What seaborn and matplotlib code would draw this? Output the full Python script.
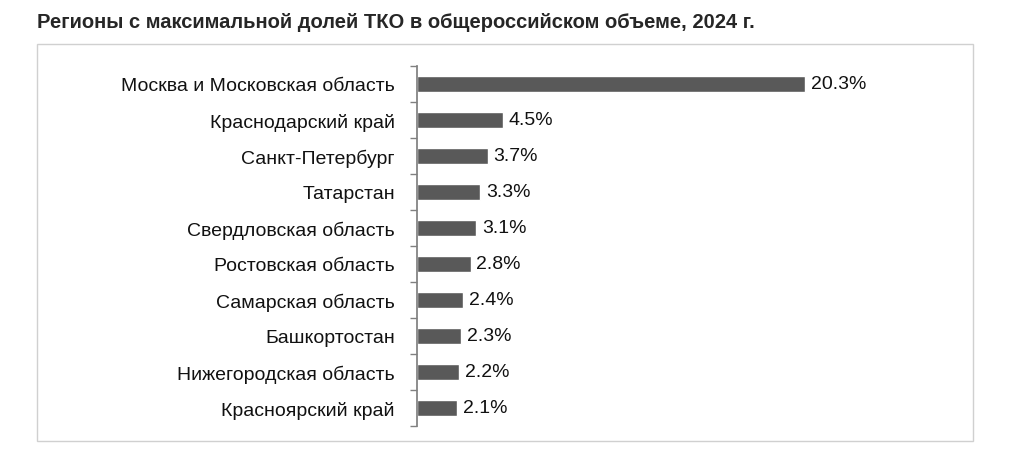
import matplotlib
matplotlib.use("Agg")
import matplotlib.pyplot as plt
import seaborn as sns
import pandas as pd
from matplotlib.patches import Rectangle

regions = ["Москва и Московская область", "Краснодарский край", "Санкт-Петербург",
           "Татарстан", "Свердловская область", "Ростовская область",
           "Самарская область", "Башкортостан", "Нижегородская область",
           "Красноярский край"]
shares = [20.3, 4.5, 3.7, 3.3, 3.1, 2.8, 2.4, 2.3, 2.2, 2.1]
title = "Регионы с максимальной долей ТКО в общероссийском объеме, 2024 г."

sns.set_theme(style="white")
plt.rcParams['font.family'] = ['Liberation Sans', 'DejaVu Sans']

df = pd.DataFrame({"region": regions, "share": shares})
fig = plt.figure(figsize=(10.11, 4.6), dpi=100)
fig.patches.append(Rectangle((37/1011, 1-442/460), 936/1011, 397/460,
                             transform=fig.transFigure, fill=False,
                             edgecolor="#d0d0d0", lw=1))
ax = fig.add_axes([417/1011, 1-427/460, 543/1011, 360/460])
sns.barplot(data=df, x="share", y="region", color="#595959", width=0.42,
            saturation=1, ax=ax)
ax.set_xlim(0, 28.4)
ax.set_ylim(9.5, -0.5)
for s in ["top", "right", "bottom"]:
    ax.spines[s].set_visible(False)
ax.spines["left"].set_color("#808080")
ax.set_xticks([])
ax.set_xlabel(""); ax.set_ylabel("")
ax.tick_params(axis="y", which="major", left=False, labelsize=14, pad=10, labelcolor="#111111")
ax.set_yticks([i - 0.5 for i in range(11)], minor=True)
ax.tick_params(axis="y", which="minor", left=True, length=5, width=1, color="#808080", direction="out")
for i, v in enumerate(shares):
    ax.text(v + 0.3, i, f"{v:.1f}%", va="center", ha="left", fontsize=14, color="#111111")
fig.text(37/1011, 1-22/460, title, fontsize=14.5, fontweight="bold", va="center", ha="left")
fig.savefig("out.png", dpi=100)
